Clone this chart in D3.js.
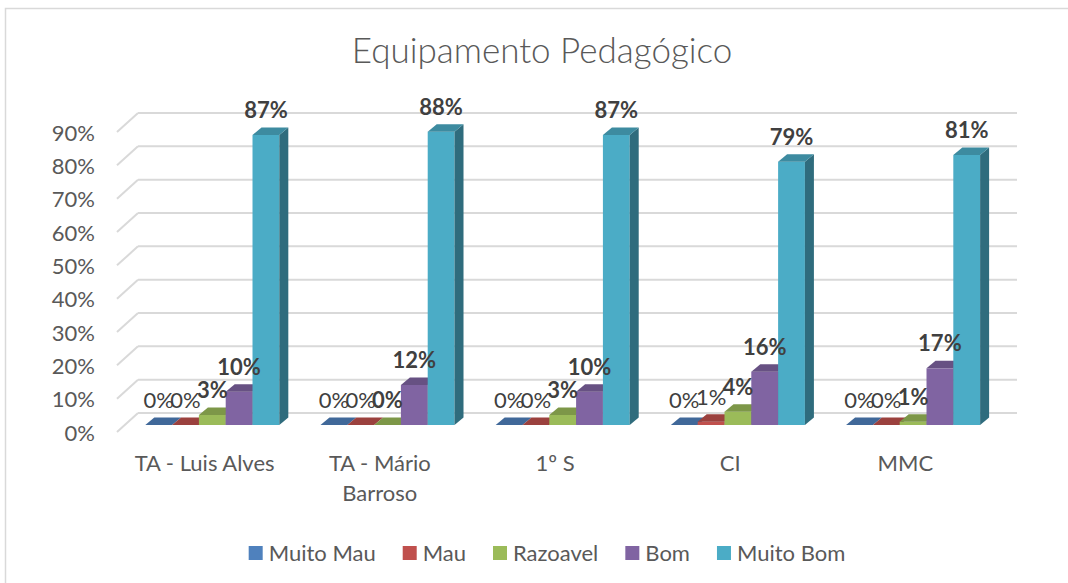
<!DOCTYPE html>
<html>
<head>
<meta charset="utf-8">
<script src="https://cdn.jsdelivr.net/npm/d3@7"></script>
<style>
  html, body { margin: 0; padding: 0; background: #fff; }
  svg text { font-family: Lato, "Open Sans", sans-serif; }
</style>
</head>
<body>
<svg id="chart" width="1068" height="583"></svg>
<script>
// data
const categories = ["TA - Luis Alves", "TA - Mário Barroso", "1º S", "CI", "MMC"];
const seriesNames = ["Muito Mau", "Mau", "Razoavel", "Bom", "Muito Bom"];
const seriesColors = ["#4F81BD", "#C0504D", "#9BBB59", "#8064A2", "#4BACC6"];
const muitoMau = [0, 0, 0, 0, 0];
const mau = [0, 0, 0, 0.01, 0];
const razoavel = [0.03, 0, 0.03, 0.04, 0.01];
const bom = [0.10, 0.12, 0.10, 0.16, 0.17];
const muitoBom = [0.87, 0.88, 0.87, 0.79, 0.81];
const yTicks = [0, 0.1, 0.2, 0.3, 0.4, 0.5, 0.6, 0.7, 0.8, 0.9];
const boldLabel = [false, false, true, true, true];

const seriesValues = [muitoMau, mau, razoavel, bom, muitoBom];

const svg = d3.select('#chart');
const textColor = '#595959';
const gridColor = '#d9d9d9';
const bodySize = 22;

// chart frame
svg.append('rect')
   .attr('x', 5.5)
   .attr('y', 8.5)
   .attr('width', 1100)
   .attr('height', 600)
   .attr('fill', '#fff')
   .attr('stroke', gridColor)
   .attr('stroke-width', 1.5);

// title
svg.append('text')
   .attr('x', 542)
   .attr('y', 63)
   .attr('text-anchor', 'middle')
   .attr('fill', textColor)
   .attr('font-size', '35px')
   .attr('font-weight', 300)
   .text('Equipamento Pedagógico');

// 3d geometry: front floor edge, back wall, bar plane
const wall = {dx: 21, dy: -19};
const barOff = {dx: 7.7, dy: -7};
const barDepth = {dx: 9, dy: -7.5};

let xFront = d3.scaleBand()
               .domain(categories)
               .range([117, 993])
               .paddingInner(0.235)
               .paddingOuter(0.1175);
let xSeries = d3.scaleBand()
                .domain(seriesNames)
                .range([0, xFront.bandwidth()]);
// y on the front floor edge
let yFront = d3.scaleLinear()
               .domain([0, 0.9])
               .range([432, 132]);

// grid: back wall lines + side wall diagonals
for(let t of yTicks){
  let yb = yFront(t) + wall.dy;
  svg.append('line')
     .attr('x1', 117 + wall.dx)
     .attr('y1', yb)
     .attr('x2', 1017)
     .attr('y2', yb)
     .attr('stroke', gridColor)
     .attr('stroke-width', 2);
  svg.append('line')
     .attr('x1', 117)
     .attr('y1', yFront(t))
     .attr('x2', 117 + wall.dx)
     .attr('y2', yb)
     .attr('stroke', gridColor)
     .attr('stroke-width', 2);
  svg.append('text')
     .attr('x', 95)
     .attr('y', yFront(t) + 1)
     .attr('dy', '0.35em')
     .attr('text-anchor', 'end')
     .attr('fill', textColor)
     .attr('font-size', bodySize + 'px')
     .text(d3.format('.0%')(t));
}

// bars, drawn left to right so each covers the previous side face
let bars = [];
categories.forEach(function(c, ci){
  seriesNames.forEach(function(s, si){
    bars.push({cat: c, ci: ci, series: s, si: si, value: seriesValues[si][ci]});
  });
});

function pts(arr){ return arr.map(p => p.join(',')).join(' '); }

let barG = svg.append('g');
bars.forEach(function(d){
  let color = d3.color(seriesColors[d.si]);
  let x0 = xFront(d.cat) + xSeries(d.series) + barOff.dx;
  let x1 = x0 + xSeries.bandwidth();
  let yb = yFront(0) + barOff.dy;
  let yt = yFront(d.value) + barOff.dy;
  let ddx = barDepth.dx, ddy = barDepth.dy;
  // front
  barG.append('rect')
      .attr('x', x0)
      .attr('y', yt)
      .attr('width', x1 - x0)
      .attr('height', yb - yt)
      .attr('fill', color.formatHex());
  // side
  barG.append('polygon')
      .attr('points', pts([[x1, yt], [x1 + ddx, yt + ddy], [x1 + ddx, yb + ddy], [x1, yb]]))
      .attr('fill', color.darker(1.3).formatHex());
  // top
  barG.append('polygon')
      .attr('points', pts([[x0, yt], [x0 + ddx, yt + ddy], [x1 + ddx, yt + ddy], [x1, yt]]))
      .attr('fill', color.darker(0.6).formatHex());
});

// data labels
svg.append('g')
   .selectAll('text')
   .data(bars)
   .enter()
   .append('text')
   .attr('x', d => xFront(d.cat) + xSeries(d.series) + barOff.dx + xSeries.bandwidth() / 2)
   .attr('y', d => yFront(d.value) + barOff.dy + barDepth.dy - 9.5)
   .attr('text-anchor', 'middle')
   .attr('fill', '#404040')
   .attr('font-size', bodySize + 'px')
   .attr('font-weight', d => boldLabel[d.si] ? 'bold' : 'normal')
   .text(d => d3.format('.0%')(d.value));

// category labels, wrapped like the original
function wrapLabel(textSel, maxWidth){
  textSel.each(function(){
    let t = d3.select(this);
    let words = t.text().split(' ');
    let x = t.attr('x');
    t.text(null);
    let line = [];
    let tspan = t.append('tspan').attr('x', x).attr('dy', 0);
    for(let w of words){
      line.push(w);
      tspan.text(line.join(' '));
      if(tspan.node().getComputedTextLength() > maxWidth && line.length > 1){
        line.pop();
        tspan.text(line.join(' '));
        line = [w];
        tspan = t.append('tspan').attr('x', x).attr('dy', '1.36em').text(w);
      }
    }
  });
}

svg.append('g')
   .selectAll('text')
   .data(categories)
   .enter()
   .append('text')
   .attr('x', d => xFront(d) + xFront.bandwidth() / 2)
   .attr('y', 471)
   .attr('text-anchor', 'middle')
   .attr('fill', textColor)
   .attr('font-size', bodySize + 'px')
   .text(d => d)
   .call(wrapLabel, 150);

// legend
let legend = svg.append('g');
let lx = 0;
seriesNames.forEach(function(s, i){
  let g = legend.append('g');
  g.append('rect')
   .attr('x', 0)
   .attr('y', 546)
   .attr('width', 14)
   .attr('height', 14)
   .attr('fill', seriesColors[i]);
  let tx = g.append('text')
            .attr('x', 20)
            .attr('y', 561)
            .attr('fill', textColor)
            .attr('font-size', bodySize + 'px')
            .text(s);
  let w = 20 + tx.node().getComputedTextLength();
  g.attr('transform', 'translate(' + lx + ',0)');
  lx += w + 27;
});
lx -= 27;
legend.attr('transform', 'translate(' + (547 - lx / 2) + ',0)');
</script>
</body>
</html>
